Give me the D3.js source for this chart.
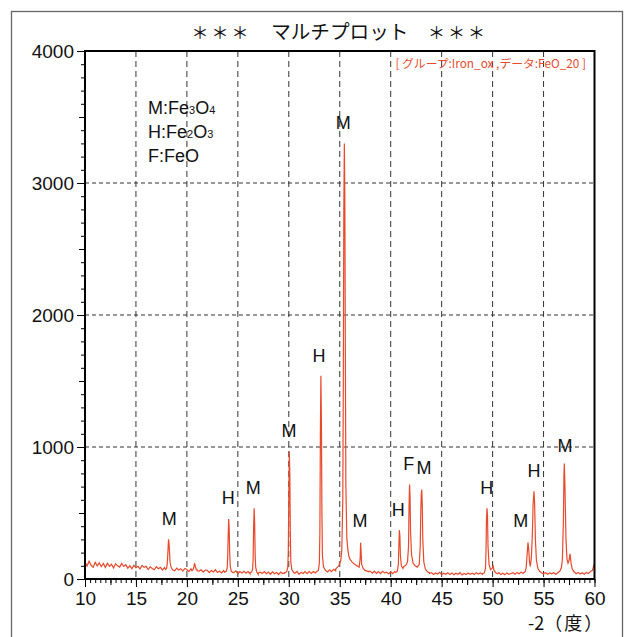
<!DOCTYPE html>
<html>
<head>
<meta charset="utf-8">
<script src="https://cdn.jsdelivr.net/npm/d3@7"></script>
<style>
  body { margin: 0; background: #fff; }
</style>
</head>
<body>
<div id="chart"></div>
<script>
const titleStars = "＊＊＊";
const titleText = "マルチプロット";
const groupLabel = "[ グループ:Iron_ox ,データ:FeO_20  ]";
const xLabelVar = "-2";
const xLabelUnit = "（度）";
const xTicks = [10, 15, 20, 25, 30, 35, 40, 45, 50, 55, 60];
const yTicks = [0, 1000, 2000, 3000, 4000];

// background counts, 10.0 .. 60.0 deg every 0.2 deg
const bgStart = 10;
const bgStep = 0.2;
const background = [
  128, 98, 135, 104, 90, 126, 100, 122, 94, 118,
  88, 120, 96, 112, 84, 116, 100, 90, 118, 95,
  108, 82, 100, 78, 104, 86, 96, 76, 102, 88,
  96, 72, 92, 80, 70, 94, 78, 88, 68, 86,
  84, 64, 88, 70, 62, 82, 68, 78, 60, 80,
  72, 56, 78, 62, 54, 74, 60, 70, 52, 68,
  66, 48, 64, 54, 70, 50, 60, 46, 64, 52,
  60, 42, 58, 48, 62, 40, 56, 46, 58, 44,
  56, 38, 54, 44, 58, 36, 52, 42, 56, 40,
  52, 36, 54, 40, 50, 34, 52, 42, 48, 38,
  54, 38, 52, 44, 58, 36, 50, 42, 56, 40,
  58, 42, 56, 46, 62, 44, 60, 50, 64, 54,
  70, 56, 74, 62, 80, 72, 90, 100, 125, 155,
  130, 105, 115, 90, 100, 82, 88, 72, 68, 56,
  58, 44, 60, 42, 56, 40, 58, 46, 52, 38,
  54, 40, 56, 46, 60, 48, 58, 50, 64, 56,
  64, 52, 68, 56, 62, 50, 60, 48, 54, 42,
  48, 34, 46, 38, 50, 32, 44, 36, 48, 34,
  46, 32, 44, 36, 48, 30, 42, 34, 46, 36,
  44, 34, 48, 38, 46, 36, 50, 42, 52, 58,
  62, 46, 36, 48, 34, 44, 32, 46, 36, 42,
  48, 36, 50, 40, 52, 44, 56, 50, 64, 58,
  66, 54, 58, 44, 50, 38, 48, 36, 46, 40,
  48, 36, 52, 44, 58, 62, 72, 85, 70, 58,
  52, 40, 50, 38, 48, 36, 50, 42, 56, 66,
  120
];

// peak profiles [2theta, counts]
const peakProfiles = [
  [[17.9, 72], [18.0, 80], [18.05, 100], [18.1, 150], [18.15, 230], [18.2, 300], [18.25, 270],
   [18.3, 190], [18.35, 125], [18.45, 88], [18.6, 70]],
  [[20.5, 62], [20.6, 70], [20.7, 95], [20.75, 120], [20.8, 105], [20.9, 75], [21.0, 62]],
  [[23.7, 52], [23.85, 58], [23.95, 80], [24.0, 160], [24.05, 330], [24.1, 454], [24.15, 380],
   [24.2, 200], [24.25, 100], [24.35, 60], [24.5, 50]],
  [[26.2, 48], [26.35, 52], [26.45, 75], [26.5, 150], [26.55, 400], [26.6, 535], [26.65, 420],
   [26.7, 180], [26.75, 90], [26.85, 55], [27.0, 46]],
  [[29.6, 45], [29.8, 55], [29.9, 90], [29.95, 200], [30.0, 600], [30.05, 965], [30.1, 800],
   [30.15, 350], [30.2, 130], [30.3, 70], [30.5, 48]],
  [[32.7, 55], [32.9, 65], [33.0, 120], [33.05, 350], [33.1, 1100], [33.15, 1540], [33.2, 1200],
   [33.25, 500], [33.3, 180], [33.4, 95], [33.6, 65]],
  [[34.6, 75], [34.9, 100], [35.1, 140], [35.2, 220], [35.3, 600], [35.35, 1500], [35.4, 2800],
   [35.45, 3300], [35.5, 2900], [35.55, 1700], [35.6, 700], [35.7, 300], [35.8, 220], [35.9, 170],
   [36.0, 150], [36.2, 130], [36.4, 115], [36.6, 105], [36.8, 95], [36.9, 90], [37.0, 150],
   [37.05, 275], [37.1, 200], [37.15, 110], [37.3, 80], [37.5, 65], [37.8, 58]],
  [[40.5, 50], [40.65, 60], [40.75, 110], [40.8, 250], [40.85, 370], [40.9, 330], [40.95, 180],
   [41.05, 100], [41.2, 80], [41.3, 95], [41.5, 105], [41.65, 130], [41.75, 250], [41.8, 550],
   [41.85, 716], [41.9, 620], [41.95, 350], [42.05, 180], [42.2, 120], [42.4, 100], [42.6, 90],
   [42.8, 110], [42.9, 250], [42.95, 500], [43.0, 640], [43.05, 678], [43.1, 560], [43.15, 300],
   [43.25, 130], [43.4, 75], [43.6, 55], [43.8, 48]],
  [[49.0, 40], [49.2, 48], [49.3, 80], [49.35, 200], [49.4, 450], [49.45, 535], [49.5, 480],
   [49.55, 250], [49.65, 110], [49.8, 70], [49.95, 80], [50.05, 98], [50.15, 65], [50.3, 48], [50.5, 40]],
  [[53.0, 45], [53.2, 55], [53.3, 90], [53.4, 200], [53.47, 277], [53.55, 220], [53.62, 130],
   [53.7, 95], [53.8, 160], [53.9, 330], [53.97, 560], [54.06, 665], [54.12, 580], [54.2, 300],
   [54.3, 140], [54.45, 80], [54.6, 60], [54.8, 48], [55.0, 42]],
  [[56.4, 48], [56.6, 60], [56.75, 85], [56.85, 150], [56.95, 450], [57.0, 780], [57.04, 875],
   [57.1, 700], [57.2, 300], [57.3, 150], [57.4, 120], [57.5, 140], [57.6, 190], [57.7, 120],
   [57.8, 80], [58.0, 55]]
];

// phase labels [text, 2theta, counts]
const phaseLabels = [
  ["M", 18.27, 459], ["H", 24.06, 618], ["M", 26.52, 693], ["M", 30.02, 1127],
  ["H", 32.96, 1694], ["M", 35.35, 3458], ["M", 36.99, 446], ["H", 40.75, 529],
  ["F", 41.77, 875], ["M", 43.27, 845], ["H", 49.42, 693], ["M", 52.76, 446],
  ["H", 54.06, 819], ["M", 57.1, 1013]
];

// legend [text, sub, text, sub]
const legendItems = [
  ["M:Fe", "3", "O", "4"],
  ["H:Fe", "2", "O", "3"],
  ["F:FeO", "", "", ""]
];

const width = 628;
const height = 637;
const plot = { left: 85, right: 594.5, top: 51, bottom: 579 };
const latin = "'Liberation Sans', Arial, sans-serif";
const cjk = "'Noto Sans CJK JP', sans-serif";
const red = "#e8492b";

const svg = d3.select("#chart").append("svg")
  .attr("width", width)
  .attr("height", height);

// outer frame
svg.append("rect")
  .attr("x", 11.5).attr("y", 11.5)
  .attr("width", 611).attr("height", 700)
  .attr("fill", "none")
  .attr("stroke", "#666")
  .attr("stroke-width", 1.3);

const x = d3.scaleLinear().domain([10, 60]).range([plot.left, plot.right]);
const y = d3.scaleLinear().domain([0, 4000]).range([plot.bottom, plot.top]);

// grid
svg.append("g").selectAll("line")
  .data(xTicks.slice(1, -1))
  .join("line")
  .attr("x1", (d) => x(d)).attr("x2", (d) => x(d))
  .attr("y1", plot.top).attr("y2", plot.bottom)
  .attr("stroke", "#333")
  .attr("stroke-dasharray", "6,4");

svg.append("g").selectAll("line")
  .data(yTicks.slice(1, -1))
  .join("line")
  .attr("x1", plot.left).attr("x2", plot.right)
  .attr("y1", (d) => y(d)).attr("y2", (d) => y(d))
  .attr("stroke", "#333")
  .attr("stroke-dasharray", "4,3");

// data line
const points = background.map((v, i) => [bgStart + i * bgStep, v])
  .filter((p) => !peakProfiles.some((s) => p[0] > s[0][0] && p[0] < s[s.length - 1][0]));
peakProfiles.forEach((s) => points.push(...s));
points.sort((a, b) => a[0] - b[0]);

svg.append("clipPath").attr("id", "clip")
  .append("rect")
  .attr("x", plot.left).attr("y", plot.top)
  .attr("width", plot.right - plot.left).attr("height", plot.bottom - plot.top);

svg.append("path")
  .datum(points)
  .attr("clip-path", "url(#clip)")
  .attr("fill", "none")
  .attr("stroke", red)
  .attr("stroke-width", 1.2)
  .attr("d", d3.line().x((d) => x(d[0])).y((d) => y(d[1])));

// axes
function styleAxis(g) {
  g.select(".domain").remove();
  g.selectAll("line").attr("stroke", "#000");
  g.selectAll("text").attr("font-family", latin).attr("font-size", 19).attr("fill", "#111");
}

svg.append("g")
  .attr("transform", `translate(0,${plot.bottom})`)
  .call(d3.axisBottom(x).tickValues(d3.range(10, 60.01, 0.5)).tickSize(4).tickFormat(""))
  .call(styleAxis);
svg.append("g")
  .attr("transform", `translate(0,${plot.bottom})`)
  .call(d3.axisBottom(x).tickValues(d3.range(12.5, 60, 5)).tickSize(6).tickFormat(""))
  .call(styleAxis);
svg.append("g")
  .attr("transform", `translate(0,${plot.bottom})`)
  .call(d3.axisBottom(x).tickValues(xTicks).tickSize(8).tickPadding(5).tickFormat(d3.format("d")))
  .call(styleAxis);

svg.append("g")
  .attr("transform", `translate(${plot.left},0)`)
  .call(d3.axisLeft(y).tickValues(d3.range(0, 4001, 100)).tickSize(4).tickFormat(""))
  .call(styleAxis);
svg.append("g")
  .attr("transform", `translate(${plot.left},0)`)
  .call(d3.axisLeft(y).tickValues(d3.range(500, 4000, 1000)).tickSize(6).tickFormat(""))
  .call(styleAxis);
svg.append("g")
  .attr("transform", `translate(${plot.left},0)`)
  .call(d3.axisLeft(y).tickValues(yTicks).tickSize(8).tickPadding(3).tickFormat(d3.format("d")))
  .call(styleAxis);

// plot frame
svg.append("rect")
  .attr("x", plot.left).attr("y", plot.top)
  .attr("width", plot.right - plot.left).attr("height", plot.bottom - plot.top)
  .attr("fill", "none")
  .attr("stroke", "#000")
  .attr("stroke-width", 2);

// title: spaced stars around the main text
const titleEl = svg.append("text")
  .attr("x", (plot.left + plot.right) / 2)
  .attr("y", 39)
  .attr("text-anchor", "middle")
  .attr("font-family", cjk)
  .attr("font-size", 19.6)
  .attr("fill", "#111");
titleEl.append("tspan").attr("font-size", 17).attr("letter-spacing", 3).text(titleStars);
titleEl.append("tspan").text("　" + titleText + "　");
titleEl.append("tspan").attr("font-size", 17).attr("letter-spacing", 3).text(titleStars);

svg.append("text")
  .attr("x", 586)
  .attr("y", 68)
  .attr("text-anchor", "end")
  .attr("font-family", cjk)
  .attr("font-size", 11.8)
  .attr("fill", red)
  .text(groupLabel);

// legend
const legend = svg.append("g").attr("font-family", latin).attr("font-size", 18).attr("fill", "#111");
legendItems.forEach((item, i) => {
  const t = legend.append("text").attr("x", 148).attr("y", 114 + i * 24);
  t.append("tspan").text(item[0]);
  if (item[1]) t.append("tspan").attr("font-size", 11).text(item[1]);
  if (item[2]) t.append("tspan").text(item[2]);
  if (item[3]) t.append("tspan").attr("font-size", 11).text(item[3]);
});

// phase labels
svg.append("g").selectAll("text")
  .data(phaseLabels)
  .join("text")
  .attr("x", (d) => x(d[1]))
  .attr("y", (d) => y(d[2]) + 6.5)
  .attr("text-anchor", "middle")
  .attr("font-family", latin)
  .attr("font-size", 18)
  .attr("fill", "#111")
  .text((d) => d[0]);

// x label
const xLab = svg.append("text")
  .attr("x", 528)
  .attr("y", 630)
  .attr("font-family", cjk)
  .attr("font-size", 18)
  .attr("fill", "#111");
xLab.append("tspan").text(xLabelVar);
xLab.append("tspan").attr("letter-spacing", 2).text(xLabelUnit);
</script>
</body>
</html>
